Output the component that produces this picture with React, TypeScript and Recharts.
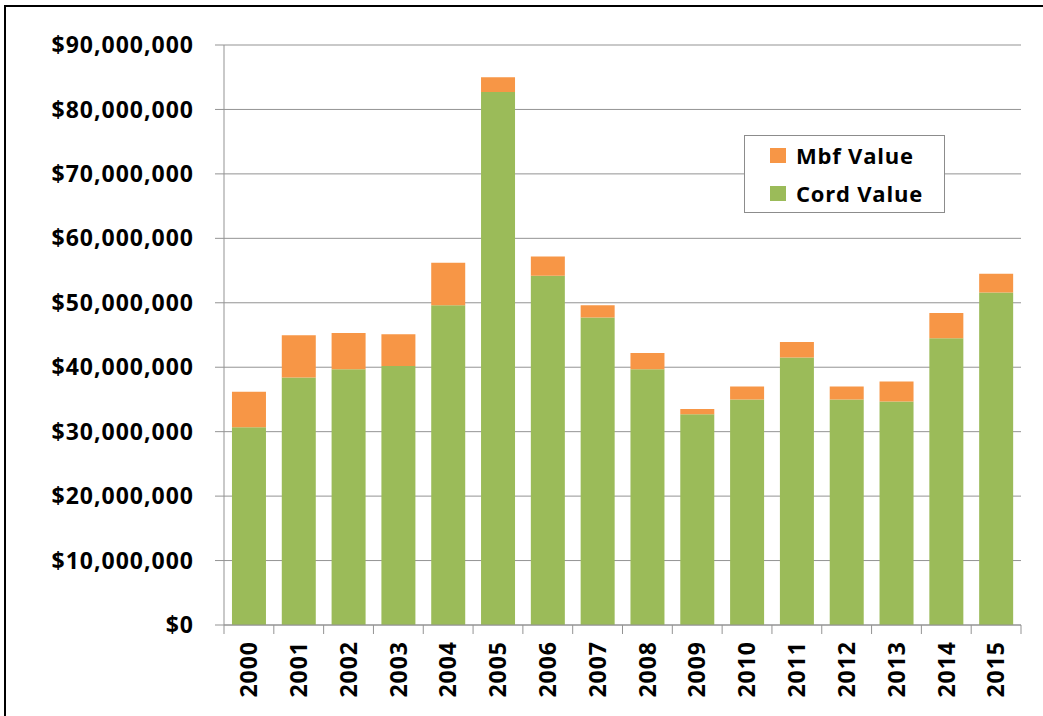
import { BarChart, Bar, XAxis, YAxis, CartesianGrid, Legend } from 'recharts';

const years = ['2000', '2001', '2002', '2003', '2004', '2005', '2006', '2007', '2008', '2009', '2010', '2011', '2012', '2013', '2014', '2015'];
const cordValue = [30.7, 38.4, 39.7, 40.2, 49.6, 82.7, 54.2, 47.7, 39.7, 32.7, 35.0, 41.5, 35.0, 34.7, 44.5, 51.6];
const mbfValue = [5.5, 6.55, 5.6, 4.9, 6.6, 2.3, 3.0, 1.9, 2.5, 0.8, 2.0, 2.4, 2.0, 3.1, 3.9, 2.9];
const yTicks = [0, 10, 20, 30, 40, 50, 60, 70, 80, 90].map((v) => v * 1000000);

const W = 1043;
const H = 716;
const LEFT = 224;
const RIGHT = 22;
const BAND = (W - LEFT - RIGHT) / years.length;

const data = years.map((year, i) => ({
  year,
  cord: cordValue[i] * 1000000,
  mbf: mbfValue[i] * 1000000,
}));

const font = '"Open Sans", sans-serif';
const grid = '#939393';

const fmt = (v: number) => '$' + v.toLocaleString('en-US');

const XTick = ({ x, y, payload, index }: any) => (
  <g>
    <line x1={x - BAND / 2} x2={x - BAND / 2} y1={y} y2={y + 9} stroke={grid} />
    {index === years.length - 1 && (
      <line x1={x + BAND / 2} x2={x + BAND / 2} y1={y} y2={y + 9} stroke={grid} />
    )}
    <text
      x={x}
      y={y + 16}
      dy="0.36em"
      transform={`rotate(-90, ${x}, ${y + 16})`}
      textAnchor="end"
      fontFamily={font}
      fontWeight={700}
      fontSize={23}
      letterSpacing={1}
      fill="#000"
    >
      {payload.value}
    </text>
  </g>
);

const LegendBox = () => (
  <div
    style={{
      position: 'relative',
      width: 199,
      height: 76,
      border: '1px solid #8c8c8c',
      background: '#fff',
      fontFamily: font,
      fontWeight: 700,
      fontSize: 22,
      color: '#000',
      boxSizing: 'content-box',
    }}
  >
    {[
      { name: 'Mbf Value', color: '#F79646', top: 8 },
      { name: 'Cord Value', color: '#9BBB59', top: 46 },
    ].map((item) => (
      <div key={item.name} style={{ position: 'absolute', left: 25, top: item.top, display: 'flex', alignItems: 'center', whiteSpace: 'nowrap' }}>
        <span style={{ width: 16, height: 15, background: item.color, display: 'inline-block', marginRight: 10 }} />
        <span style={{ lineHeight: '22px', letterSpacing: 0.8 }}>{item.name}</span>
      </div>
    ))}
  </div>
);

export default function App() {
  return (
    <div style={{ position: 'absolute', left: 0, top: 0, width: W, height: H, background: '#fff', overflow: 'hidden' }}>
      <div
        style={{
          position: 'absolute',
          left: 4,
          top: 5,
          width: W,
          height: H,
          borderLeft: '2px solid #000',
          borderTop: '2px solid #000',
        }}
      />
      <div style={{ position: 'absolute', left: 0, top: 0 }}>
        <BarChart width={W} height={H} data={data} margin={{ top: 45, right: RIGHT, bottom: 11, left: 0 }} barCategoryGap="16%">
          <CartesianGrid vertical={false} stroke={grid} />
          <XAxis
            dataKey="year"
            height={80}
            axisLine={{ stroke: grid }}
            tickLine={false}
            tickSize={0}
            tickMargin={0}
            interval={0}
            tick={<XTick />}
          />
          <YAxis
            width={LEFT}
            domain={[0, 90000000]}
            ticks={yTicks}
            tickFormatter={fmt}
            axisLine={{ stroke: grid }}
            tickLine={{ stroke: grid }}
            tickSize={9}
            tickMargin={21}
            tick={{ fontFamily: font, fontWeight: 700, fontSize: 23, fill: '#000', letterSpacing: 1 }}
          />
          <Legend
            content={<LegendBox />}
            wrapperStyle={{ position: 'absolute', left: 744, top: 135, width: 0, height: 0, overflow: 'visible' }}
          />
          <Bar dataKey="cord" name="Cord Value" stackId="a" fill="#9BBB59" isAnimationActive={false} />
          <Bar dataKey="mbf" name="Mbf Value" stackId="a" fill="#F79646" isAnimationActive={false} />
        </BarChart>
      </div>
    </div>
  );
}
